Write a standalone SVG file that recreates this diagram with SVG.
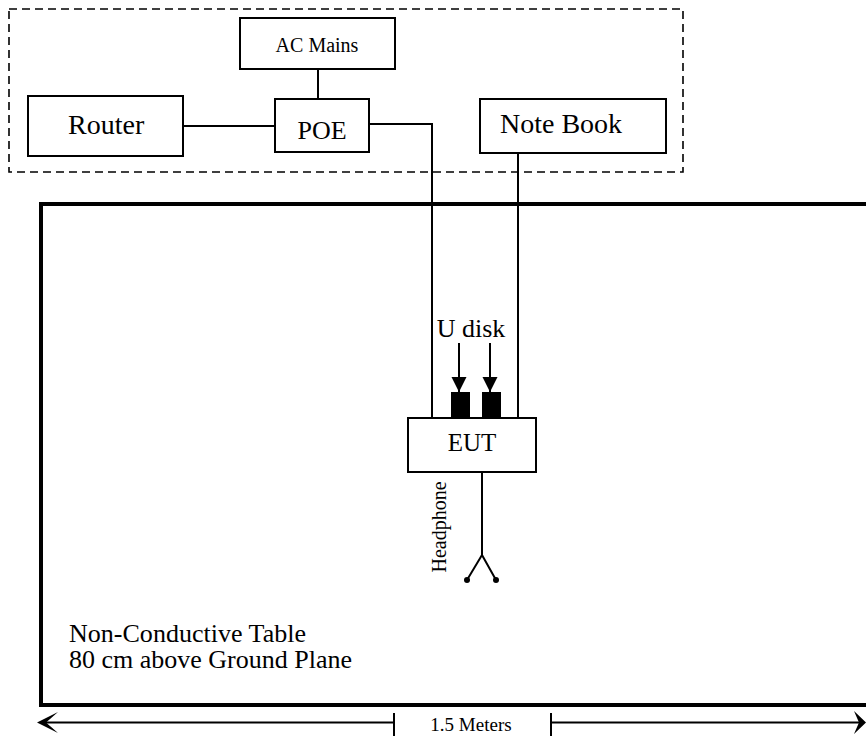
<svg xmlns="http://www.w3.org/2000/svg" width="866" height="736" viewBox="0 0 866 736">
<defs>
<style>
.box{fill:#fff;stroke:#000;stroke-width:2}
.ln{fill:none;stroke:#000;stroke-width:2}
.t{font-family:"Liberation Serif","Times New Roman",serif;fill:#000}
</style>
<marker id="ah" markerUnits="userSpaceOnUse" markerWidth="16" markerHeight="16" refX="15" refY="7.5" orient="auto">
<path d="M0,0 L15,7.5 L0,15 Z" fill="#000"/>
</marker>
</defs>
<rect width="866" height="736" fill="#fff"/>
<g id="table">
<rect x="41" y="204" width="840" height="501" fill="none" stroke="#000" stroke-width="4"/>
<text class="t" x="69" y="642" font-size="25" textLength="237" lengthAdjust="spacingAndGlyphs">Non-Conductive Table</text>
<text class="t" x="69" y="668" font-size="25" textLength="283" lengthAdjust="spacingAndGlyphs">80 cm above Ground Plane</text>
</g>
<g id="dashed-area">
<rect x="9" y="9" width="674" height="163" fill="none" stroke="#000" stroke-width="1.6" stroke-dasharray="8,5"/>
</g>
<g id="connectors">
<path class="ln" d="M318,69 V99"/>
<path class="ln" d="M183,126 H275"/>
<path class="ln" d="M369,124 H432 V418"/>
<path class="ln" d="M518,153 V418"/>
<path class="ln" d="M459,343 V392" marker-end="url(#ah)"/>
<path class="ln" d="M490,343 V392" marker-end="url(#ah)"/>
<path class="ln" d="M482,472 V555 L467,580 M482,555 L496,580"/>
<circle cx="467" cy="580" r="3" fill="#000"/>
<circle cx="496" cy="580" r="3" fill="#000"/>
</g>
<g id="ac-mains">
<rect class="box" x="240" y="18" width="155" height="51"/>
<text class="t" x="317" y="52" font-size="20" text-anchor="middle">AC Mains</text>
</g>
<g id="router">
<rect class="box" x="28" y="96" width="155" height="60"/>
<text class="t" x="68" y="134" font-size="28">Router</text>
</g>
<g id="poe">
<rect class="box" x="275" y="99" width="94" height="53"/>
<text class="t" x="322" y="139" font-size="26" text-anchor="middle">POE</text>
</g>
<g id="notebook">
<rect class="box" x="480" y="99" width="186" height="54"/>
<text class="t" x="500" y="133" font-size="28">Note Book</text>
</g>
<g id="eut">
<rect x="451" y="392" width="19" height="26" fill="#000"/>
<rect x="482" y="392" width="19" height="26" fill="#000"/>
<rect class="box" x="408" y="418" width="128" height="54"/>
<text class="t" x="472" y="451" font-size="25" text-anchor="middle">EUT</text>
<text class="t" x="471" y="337" font-size="26" text-anchor="middle">U disk</text>
<text class="t" x="0" y="0" font-size="20" text-anchor="middle" transform="translate(446,527) rotate(-90)">Headphone</text>
</g>
<g id="dimension">
<path class="ln" stroke-width="1.6" d="M40,722.5 H394 M394,713 V736 M551,713 V736 M551,722.5 H862"/>
<path d="M37,722.5 L58,712 L46,722.5 L58,733 Z" fill="#000"/>
<path d="M866,722.5 L854,711 L859,722.5 L854,734 Z" fill="#000"/>
<text class="t" x="471" y="731" font-size="19" text-anchor="middle">1.5 Meters</text>
</g>
</svg>
